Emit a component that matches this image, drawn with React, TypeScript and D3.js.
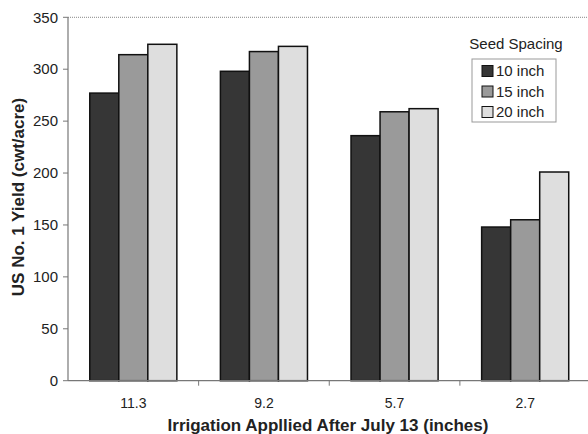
import React from "react";
import * as d3 from "d3";

const categories = ["11.3", "9.2", "5.7", "2.7"];
const seriesNames = ["10 inch", "15 inch", "20 inch"];
const inch10 = [277, 298, 236, 148];
const inch15 = [314, 317, 259, 155];
const inch20 = [324, 322, 262, 201];
const yTicks = [0, 50, 100, 150, 200, 250, 300, 350];
const seriesValues = [inch10, inch15, inch20];
const colors = ["#363636", "#9a9a9a", "#dedede"];

const W = 588;
const H = 434;
const left = 68;
const right = 590.5;
const top = 17.3;
const bottom = 380.7;

export default function App() {
  const x0 = d3.scaleBand<string>().domain(categories).range([left, right]).paddingInner(0).paddingOuter(0);
  const x1 = d3
    .scaleBand<string>()
    .domain(seriesNames)
    .range([0, x0.bandwidth()])
    .paddingInner(0)
    .paddingOuter(0.75);
  const y = d3.scaleLinear().domain([0, 350]).range([bottom, top]);
  const font = "Arial, 'Liberation Sans', Helvetica, sans-serif";

  return (
    <svg
      width={W}
      height={H}
      style={{ position: "absolute", left: 0, top: 0, background: "#fff" }}
      fontFamily={font}
    >
      <defs>
        <clipPath id="clip">
          <rect x={0} y={0} width={W} height={H} />
        </clipPath>
      </defs>
      {/* top border dotted */}
      <line x1={left} x2={W} y1={top} y2={top} stroke="#888" strokeWidth={1} strokeDasharray="1,1" />
      {/* bars */}
      {categories.map((c, i) => (
        <g key={c}>
          {seriesNames.map((s, j) => {
            const v = seriesValues[j][i];
            const bx = (x0(c) as number) + (x1(s) as number);
            return (
              <rect
                key={s}
                x={bx}
                y={y(v)}
                width={x1.bandwidth()}
                height={bottom - y(v)}
                fill={colors[j]}
                stroke="#111"
                strokeWidth={1.5}
              />
            );
          })}
        </g>
      ))}
      {/* y axis */}
      <line x1={left} x2={left} y1={top} y2={bottom} stroke="#777" strokeWidth={1.2} />
      {yTicks.map((t) => (
        <g key={t}>
          <line x1={left - 5} x2={left} y1={y(t)} y2={y(t)} stroke="#777" strokeWidth={1} />
          <text x={58} y={y(t)} dy="0.35em" textAnchor="end" fontSize={15} fill="#222">
            {t}
          </text>
        </g>
      ))}
      {/* x axis */}
      <line x1={left} x2={W} y1={bottom} y2={bottom} stroke="#777" strokeWidth={1.2} />
      {categories.map((c, i) => (
        <g key={c}>
          {i > 0 && (
            <line
              x1={x0(c) as number}
              x2={x0(c) as number}
              y1={bottom}
              y2={bottom + 5}
              stroke="#777"
              strokeWidth={1}
            />
          )}
          <text
            x={(x0(c) as number) + x0.bandwidth() / 2}
            y={408}
            textAnchor="middle"
            fontSize={14}
            fill="#222"
          >
            {c}
          </text>
        </g>
      ))}
      {/* axis titles */}
      <text x={328} y={431} textAnchor="middle" fontSize={17} fontWeight="bold" fill="#222">
        Irrigation Appllied After July 13 (inches)
      </text>
      <text
        transform={`translate(24,197) rotate(-90)`}
        textAnchor="middle"
        fontSize={17}
        fontWeight="bold"
        fill="#222"
      >
        US No. 1 Yield (cwt/acre)
      </text>
      {/* legend */}
      <text x={516} y={49} textAnchor="middle" fontSize={15} fill="#222">
        Seed Spacing
      </text>
      <rect x={472} y={59} width={84} height={63} fill="#fff" stroke="#999" strokeWidth={1} />
      {seriesNames.map((s, j) => (
        <g key={s}>
          <rect x={482} y={65.5 + j * 20.5} width={11} height={11} fill={colors[j]} stroke="#111" strokeWidth={1} />
          <text x={496} y={71 + j * 20.5} dy="0.35em" fontSize={15} fill="#222">
            {s}
          </text>
        </g>
      ))}
    </svg>
  );
}
